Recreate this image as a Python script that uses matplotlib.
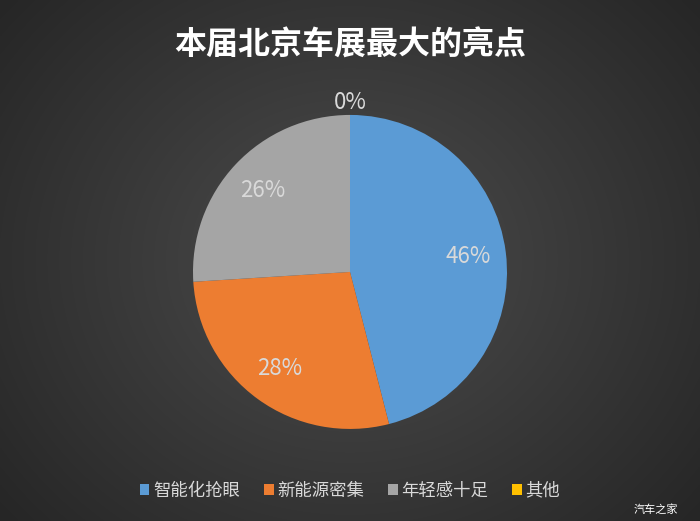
import numpy as np
import matplotlib.pyplot as plt
from matplotlib.patches import Patch

plt.rcParams['font.family'] = ['Noto Sans CJK SC', 'DejaVu Sans']

# chart data
categories = ["智能化抢眼", "新能源密集", "年轻感十足", "其他"]
shares = [46, 28, 26, 0]
colors = ["#5B9BD5", "#ED7D31", "#A5A5A5", "#FFC000"]
title = "本届北京车展最大的亮点"

fig = plt.figure(figsize=(7, 5.21), dpi=100)

# radial gradient background, light centre to dark corners
bg = fig.add_axes([0, 0, 1, 1])
yy, xx = np.mgrid[-1:1:300j, -1:1:400j]
r = np.clip(np.sqrt(xx ** 2 + (yy * 0.85) ** 2) / 1.3, 0, 1)
level = 0.30 - (0.30 - 0.15) * r
img = np.dstack([level, level, level])
bg.imshow(img, aspect="auto", extent=[0, 1, 0, 1], interpolation="bilinear")
bg.set_axis_off()

ax = fig.add_axes([0.5 - 0.2243, 0.478 - 0.3013, 0.4486, 0.6027])
wedges, texts, autotexts = ax.pie(
    shares, colors=colors, startangle=90, counterclock=False,
    autopct=lambda p: f"{p:.0f}%", pctdistance=0.76,
    wedgeprops=dict(linewidth=0),
    textprops=dict(color="#d9d9d9", fontsize=16))
ax.set_xlim(-1, 1)
ax.set_ylim(-1, 1)
ax.set_aspect("equal")

# zero slice label goes outside
for w, t, v in zip(wedges, autotexts, shares):
    if v == 0:
        ang = np.deg2rad((w.theta1 + w.theta2) / 2)
        t.set_position((1.08 * np.cos(ang), 1.08 * np.sin(ang)))

fig.text(0.5, 0.912, title, ha="center", va="center", color="white",
         fontsize=23, fontweight="bold")

handles = [Patch(facecolor=c, label=l) for c, l in zip(colors, categories)]
leg = fig.legend(handles=handles, loc="center", bbox_to_anchor=(0.5, 0.058),
                 ncol=4, frameon=False, fontsize=12.5, handlelength=0.55,
                 handleheight=0.55, handletextpad=0.2, columnspacing=1.4)
for t in leg.get_texts():
    t.set_color("#d9d9d9")

fig.text(0.968, 0.022, "汽车之家", ha="right", va="center", color="white",
         fontsize=8)

fig.savefig("out.png", dpi=100)
